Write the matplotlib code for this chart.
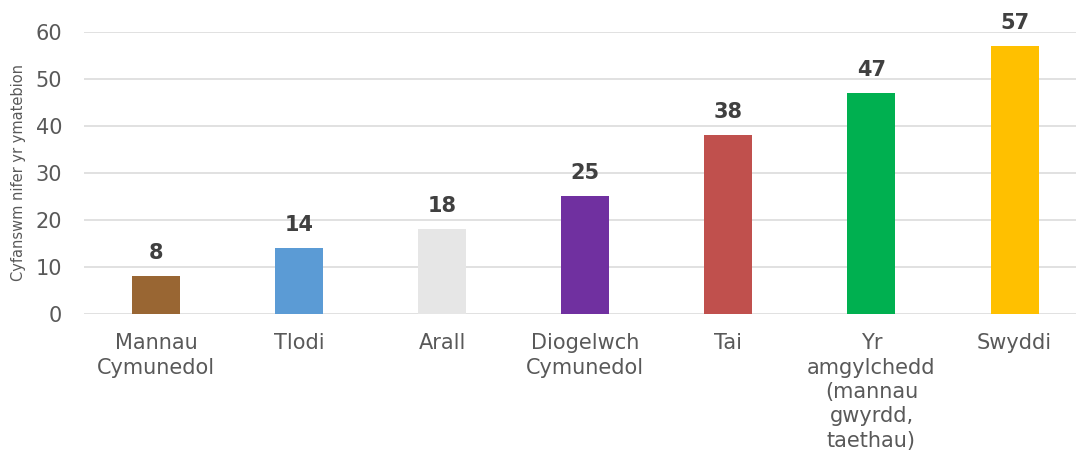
import matplotlib
matplotlib.use("Agg")
import matplotlib.pyplot as plt

categories = [
    "Mannau\nCymunedol",
    "Tlodi",
    "Arall",
    "Diogelwch\nCymunedol",
    "Tai",
    "Yr\namgylchedd\n(mannau\ngwyrdd,\ntaethau)",
    "Swyddi",
]
values = [8, 14, 18, 25, 38, 47, 57]
colors = ["#996633", "#5B9BD5", "#E6E6E6", "#7030A0", "#C0504D", "#00B050", "#FFC000"]
y_ticks = [0, 10, 20, 30, 40, 50, 60]
y_label = "Cyfanswm nifer yr ymatebion"

plt.rcParams["font.family"] = ["DejaVu Sans"]

fig = plt.figure(figsize=(10.76, 4.61), dpi=100)
ax = fig.add_axes([0.0784, 0.3189, 0.931, 0.6117])

x = range(len(values))
bars = ax.bar(x, values, width=0.335, color=colors, zorder=3)

# value labels above bars
for xi, v in zip(x, values):
    ax.annotate(str(v), (xi, v), xytext=(0, 9.5), textcoords="offset points",
                ha="center", va="bottom", fontsize=15, fontweight="bold",
                color="#404040")

ax.set_xlim(-0.5, len(values) - 0.5)
ax.set_ylim(0, 60)
ax.set_yticks(y_ticks)
ax.set_xticks(list(x))
ax.set_xticklabels(categories, fontsize=15, color="#595959", va="top",
                   linespacing=1.27)
ax.tick_params(axis="y", labelsize=15, labelcolor="#595959", length=0, pad=16)
ax.tick_params(axis="x", length=0, pad=14)
ax.grid(axis="y", color="#D9D9D9", linewidth=1.1, zorder=0)
for s in ax.spines.values():
    s.set_visible(False)

ax.set_ylabel(y_label, fontsize=10.5, color="#595959", labelpad=7)

fig.savefig("out.png", dpi=100)
